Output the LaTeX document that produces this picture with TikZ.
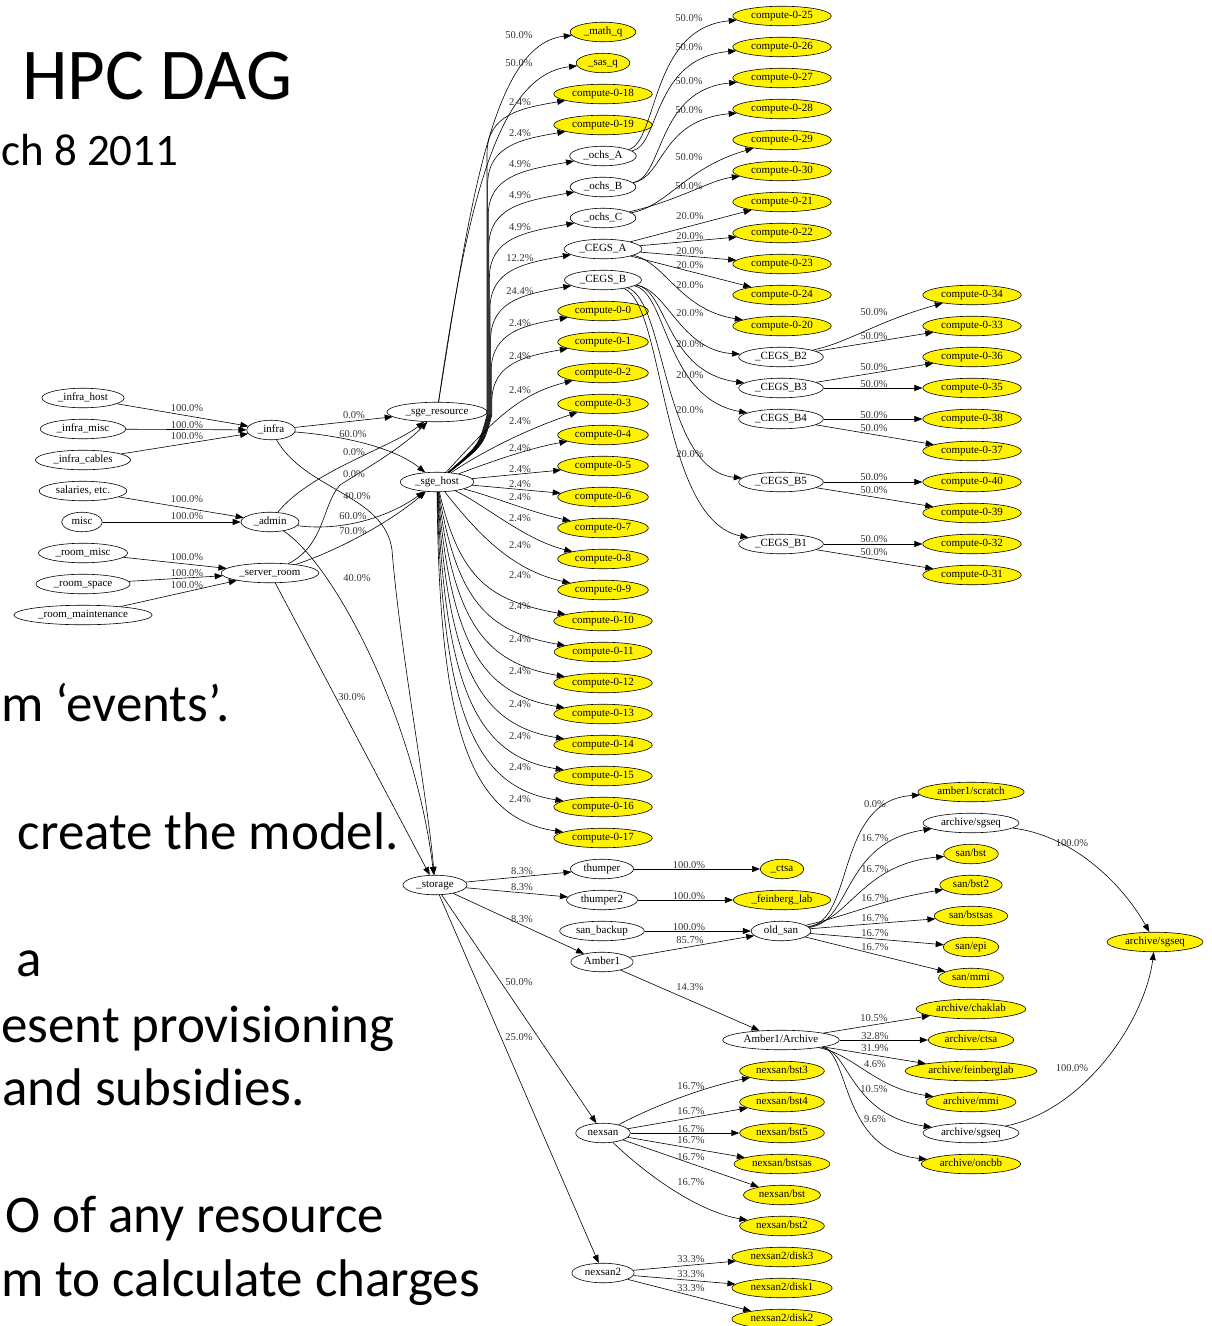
\documentclass[tikz,border=0pt]{standalone}
\usepackage{fontspec}
\setmainfont{Liberation Serif}
\newfontfamily\slidefont{Carlito}
\usetikzlibrary{shapes.geometric,arrows.meta}
\tikzset{
  gv/.style={ellipse, draw, line width=0.6pt, font=\fontsize{11}{12}\selectfont, inner xsep=4pt, inner ysep=2pt, text height=7.4pt, text depth=2.4pt},
  yl/.style={gv, fill=yellow},
  ed/.style={-{Triangle[length=8pt,width=6pt]}, line width=0.6pt},
  pc/.style={font=\fontsize{10.5}{11}\selectfont, text=black!80, inner sep=0pt},
  slt/.style={font=\slidefont\fontsize{73}{80}\selectfont, inner sep=0pt, anchor=base west},
  sld/.style={font=\slidefont\fontsize{45}{50}\selectfont, inner sep=0pt, anchor=base west},
  slb/.style={font=\slidefont\fontsize{53}{58}\selectfont, inner sep=0pt, anchor=base east},
  slw/.style={font=\slidefont\fontsize{53}{58}\selectfont, inner sep=0pt, anchor=base west},
}
\begin{document}
\begin{tikzpicture}[x=1pt,y=-1pt]
\useasboundingbox (0,0) rectangle (1211,1326);
\clip (0,0) rectangle (1211,1326);
\fill[white] (0,0) rectangle (1211,1326);

% ---------- slide text ----------
\node[slt] (title) at (22,99) {HPC DAG};
\node[sld] (date) at (1,165) {ch 8 2011};
\node[slw] (t1) at (1,721) {m ‘events’.};
\node[slb] (t2) at (399,849) {create the model.};
\node[slb] (t3) at (42,976) {a};
\node[slw] (t4) at (1,1042) {esent provisioning};
\node[slb] (t5) at (305,1105) {and subsidies.};
\node[slb] (t6) at (384,1232) {O of any resource};
\node[slw] (t7) at (1,1296) {m to calculate charges};

% ---------- left nodes ----------
\node[gv] (ih) at (83,398) {\_infra\_host};
\node[gv] (im) at (83,429) {\_infra\_misc};
\node[gv] (ic) at (83,460) {\_infra\_cables};
\node[gv] (sal) at (83,491) {salaries, etc.};
\node[gv] (misc) at (82,522) {misc};
\node[gv] (rmisc) at (83,553) {\_room\_misc};
\node[gv] (rspace) at (83,584) {\_room\_space};
\node[gv] (rmaint) at (83,615) {\_room\_maintenance};
\node[gv] (infra) at (271,430) {\_infra};
\node[gv] (admin) at (270,522) {\_admin};
\node[gv] (sroom) at (270,573) {\_server\_room};
\node[gv] (sgeres) at (437,412) {\_sge\_resource};
\node[gv] (sgehost) at (437,482) {\_sge\_host};
\node[gv] (storage) at (435,885) {\_storage};

% ---------- middle column ----------
\node[yl] (mathq) at (603,32) {\_math\_q};
\node[yl] (sasq) at (603,63) {\_sas\_q};
\node[yl] (c18) at (603,94) {compute-0-18};
\node[yl] (c19) at (603,125) {compute-0-19};
\node[gv] (ochsA) at (603,156) {\_ochs\_A};
\node[gv] (ochsB) at (603,187) {\_ochs\_B};
\node[gv] (ochsC) at (603,218) {\_ochs\_C};
\node[gv] (cegsA) at (603,249) {\_CEGS\_A};
\node[gv] (cegsB) at (603,280) {\_CEGS\_B};
\foreach \i in {0,...,17} {\node[yl] (c\i) at (603,{311+31*\i}) {compute-0-\i};}
\node[gv] (thumper) at (602,869) {thumper};
\node[gv] (thumper2) at (602,900) {thumper2};
\node[gv] (sanb) at (602,931) {san\_backup};
\node[gv] (amber) at (602,962) {Amber1};
\node[gv] (nexsan) at (603,1133) {nexsan};
\node[gv] (nexsan2) at (603,1273) {nexsan2};

% ---------- right column ----------
\node[yl] (c25) at (782,16) {compute-0-25};
\node[yl] (c26) at (782,47) {compute-0-26};
\node[yl] (c27) at (782,78) {compute-0-27};
\node[yl] (c28) at (782,109) {compute-0-28};
\node[yl] (c29) at (782,140) {compute-0-29};
\node[yl] (c30) at (782,171) {compute-0-30};
\node[yl] (c21) at (782,202) {compute-0-21};
\node[yl] (c22) at (782,233) {compute-0-22};
\node[yl] (c23) at (782,264) {compute-0-23};
\node[yl] (c24) at (782,295) {compute-0-24};
\node[yl] (c20) at (782,326) {compute-0-20};
\node[gv] (b2) at (781,357) {\_CEGS\_B2};
\node[gv] (b3) at (781,388) {\_CEGS\_B3};
\node[gv] (b4) at (781,419) {\_CEGS\_B4};
\node[gv] (b5) at (781,482) {\_CEGS\_B5};
\node[gv] (b1) at (781,544) {\_CEGS\_B1};
\node[yl] (ctsa) at (782,869) {\_ctsa};
\node[yl] (feinberg) at (782,900) {\_feinberg\_lab};
\node[gv] (oldsan) at (781,931) {old\_san};
\node[gv] (archive) at (781,1040) {Amber1/Archive};
\node[yl] (n3) at (782,1071) {nexsan/bst3};
\node[yl] (n4) at (782,1102) {nexsan/bst4};
\node[yl] (n5) at (782,1133) {nexsan/bst5};
\node[yl] (nsas) at (782,1164) {nexsan/bstsas};
\node[yl] (nbst) at (782,1195) {nexsan/bst};
\node[yl] (n2) at (782,1226) {nexsan/bst2};
\node[yl] (d3) at (782,1257) {nexsan2/disk3};
\node[yl] (d1) at (782,1288) {nexsan2/disk1};
\node[yl] (d2) at (782,1319) {nexsan2/disk2};

% ---------- far right ----------
\node[yl] (c34) at (972,295) {compute-0-34};
\node[yl] (c33) at (972,326) {compute-0-33};
\node[yl] (c36) at (972,357) {compute-0-36};
\node[yl] (c35) at (972,388) {compute-0-35};
\node[yl] (c38) at (972,419) {compute-0-38};
\node[yl] (c37) at (972,451) {compute-0-37};
\node[yl] (c40) at (972,482) {compute-0-40};
\node[yl] (c39) at (972,513) {compute-0-39};
\node[yl] (c32) at (972,544) {compute-0-32};
\node[yl] (c31) at (972,575) {compute-0-31};
\node[yl] (scratch) at (971,792) {amber1/scratch};
\node[gv] (asg1) at (971,823) {archive/sgseq};
\node[yl] (sbst) at (971,854) {san/bst};
\node[yl] (sbst2) at (971,885) {san/bst2};
\node[yl] (sbstsas) at (971,916) {san/bstsas};
\node[yl] (sepi) at (971,947) {san/epi};
\node[yl] (smmi) at (971,978) {san/mmi};
\node[yl] (chak) at (971,1009) {archive/chaklab};
\node[yl] (actsa) at (971,1040) {archive/ctsa};
\node[yl] (afein) at (971,1071) {archive/feinberglab};
\node[yl] (ammi) at (971,1102) {archive/mmi};
\node[gv] (asg2) at (971,1133) {archive/sgseq};
\node[yl] (oncbb) at (971,1164) {archive/oncbb};
\node[yl] (asgr) at (1155,942) {archive/sgseq};

% ---------- left edges ----------
\draw[ed] (ih) -- (infra) node[pc,at={(187,408)}] (p1) {100.0\%};
\draw[ed] (im) -- (infra) node[pc,at={(187,425)}] (p2) {100.0\%};
\draw[ed] (ic) -- (infra) node[pc,at={(187,436)}] (p3) {100.0\%};
\draw[ed] (sal) -- (admin) node[pc,at={(187,499)}] (p4) {100.0\%};
\draw[ed] (misc) -- (admin) node[pc,at={(187,516)}] (p5) {100.0\%};
\draw[ed] (rmisc) -- (sroom) node[pc,at={(187,557)}] (p6) {100.0\%};
\draw[ed] (rspace) -- (sroom) node[pc,at={(187,573)}] (p7) {100.0\%};
\draw[ed] (rmaint) -- (sroom) node[pc,at={(187,585)}] (p8) {100.0\%};

\draw[ed] (infra) -- (sgeres) node[pc,at={(354,415)}] (p9) {0.0\%};
\draw[ed] (infra) .. controls (345,436) and (395,448) .. (sgehost) node[pc,at={(353,434)}] (p10) {60.0\%};
\draw[ed] (infra) .. controls (305,490) and (385,495) .. (392,550) .. controls (400,650) and (428,800) .. (storage) node[pc,at={(357,496)}] (p11) {40.0\%};
\draw[ed] (admin) .. controls (310,472) and (390,448) .. (sgeres) node[pc,at={(354,452)}] (p12) {0.0\%};
\draw[ed] (sroom) .. controls (325,545) and (322,505) .. (340,485) .. controls (355,475) and (400,450) .. (sgeres) node[pc,at={(354,474)}] (p13) {0.0\%};
\draw[ed] (admin) .. controls (345,532) and (392,515) .. (sgehost) node[pc,at={(353,516)}] (p14) {60.0\%};
\draw[ed] (sroom) .. controls (345,548) and (395,518) .. (sgehost) node[pc,at={(353,531)}] (p15) {70.0\%};
\draw[ed] (admin) .. controls (335,565) and (415,720) .. (storage) node[pc,at={(357,578)}] (p16) {40.0\%};
\draw[ed] (sroom) -- (storage) node[pc,at={(352,697)}] (p17) {30.0\%};

% ---------- sge_resource ----------
\draw[ed] (sgeres) .. controls (470,205) and (492,44) .. (mathq) node[pc,at={(519,35)}] (p18) {50.0\%};
\draw[ed] (sgeres) .. controls (466,215) and (495,75) .. (sasq) node[pc,at={(519,63)}] (p19) {50.0\%};

% ---------- sge_host upper ----------
\foreach \tg/\bx/\yT/\ly/\lab in {c18/487/94/102/2.4, c19/487.6/125/133/2.4, ochsA/488.2/156/164/4.9, ochsB/488.8/187/195/4.9, ochsC/489.4/218/227/4.9, cegsA/490/249/258/12.2, cegsB/490.6/280/291/24.4, c0/491.2/311/323/2.4, c1/491.8/342/356/2.4}{
  \draw[ed] (sgehost) .. controls ({\bx-8},445) .. (\bx,415) -- (\bx,{\yT+60}) .. controls (\bx,{\yT+20}) and ({\bx+35},{\yT+14}) .. (\tg);
  \node[pc] (l\tg) at (520,\ly) {\lab\%};
}
\draw[ed] (sgehost) .. controls (490,425) and (515,395) .. (c2);
\draw[ed] (sgehost) .. controls (485,450) and (530,428) .. (c3);
\draw[ed] (sgehost) .. controls (490,462) and (530,448) .. (c4);
\draw[ed] (sgehost) -- (c5);
\draw[ed] (sgehost) -- (c6);
\draw[ed] (sgehost) .. controls (495,497) and (530,512) .. (c7);
\draw[ed] (sgehost) .. controls (485,505) and (525,540) .. (c8);
\draw[ed] (sgehost) .. controls (475,530) and (510,570) .. (c9);
\foreach \k in {0,...,7}{
  \pgfmathsetmacro\yT{621+31*\k}
  \pgfmathsetmacro\ax{460-3*\k}
  \pgfmathsetmacro\ay{492+0.68*(\yT-492)}
  \pgfmathsetmacro\bx{490-3*\k}
  \pgfmathsetmacro\by{\yT-20}
  \pgfmathtruncatemacro\nn{10+\k}
  \draw[ed] (sgehost) .. controls (\ax,\ay) and (\bx,\by) .. (c\nn);
}
\foreach \nn/\ly in {2/390,3/421,4/448,5/469,6/484,7/497,8/518,9/545,10/575,11/606,12/639,13/671,14/704,15/736,16/767,17/799}{
  \node[pc] (lc\nn) at (520,\ly) {2.4\%};
}

% ---------- ochs ----------
\draw[ed] (ochsA) .. controls (658,142) and (650,28) .. (c25) node[pc,at={(689,18)}] (p20) {50.0\%};
\draw[ed] (ochsA) .. controls (660,146) and (652,58) .. (c26) node[pc,at={(689,47)}] (p21) {50.0\%};
\draw[ed] (ochsB) .. controls (664,178) and (656,90) .. (c27) node[pc,at={(689,81)}] (p22) {50.0\%};
\draw[ed] (ochsB) .. controls (664,178) and (660,120) .. (c28) node[pc,at={(689,110)}] (p23) {50.0\%};
\draw[ed] (ochsC) .. controls (668,206) and (685,168) .. (c29) node[pc,at={(689,157)}] (p24) {50.0\%};
\draw[ed] (ochsC) .. controls (680,200) and (710,180) .. (c30) node[pc,at={(689,186)}] (p25) {50.0\%};

% ---------- CEGS_A ----------
\draw[ed] (cegsA) -- (c21) node[pc,at={(690,216)}] (p26) {20.0\%};
\draw[ed] (cegsA) -- (c22) node[pc,at={(690,236)}] (p27) {20.0\%};
\draw[ed] (cegsA) -- (c23) node[pc,at={(690,251)}] (p28) {20.0\%};
\draw[ed] (cegsA) -- (c24) node[pc,at={(690,265)}] (p29) {20.0\%};
\draw[ed] (cegsA) .. controls (665,262) and (680,310) .. (c20) node[pc,at={(690,285)}] (p30) {20.0\%};

% ---------- CEGS_B ----------
\draw[ed] (cegsB) .. controls (668,290) and (680,350) .. (b2) node[pc,at={(690,313)}] (p31) {20.0\%};
\draw[ed] (cegsB) .. controls (668,290) and (665,372) .. (b3) node[pc,at={(690,344)}] (p32) {20.0\%};
\draw[ed] (cegsB) .. controls (667,292) and (665,398) .. (b4) node[pc,at={(690,375)}] (p33) {20.0\%};
\draw[ed] (cegsB) .. controls (666,300) and (662,470) .. (b5) node[pc,at={(690,410)}] (p34) {20.0\%};
\draw[ed] (cegsB) .. controls (665,305) and (660,520) .. (b1) node[pc,at={(690,454)}] (p35) {20.0\%};

\draw[ed] (b2) .. controls (850,342) and (875,322) .. (c34) node[pc,at={(874,312)}] (p36) {50.0\%};
\draw[ed] (b2) -- (c33) node[pc,at={(874,336)}] (p37) {50.0\%};
\draw[ed] (b3) -- (c36) node[pc,at={(874,367)}] (p38) {50.0\%};
\draw[ed] (b3) -- (c35) node[pc,at={(874,384)}] (p39) {50.0\%};
\draw[ed] (b4) -- (c38) node[pc,at={(874,415)}] (p40) {50.0\%};
\draw[ed] (b4) -- (c37) node[pc,at={(874,428)}] (p41) {50.0\%};
\draw[ed] (b5) -- (c40) node[pc,at={(874,477)}] (p42) {50.0\%};
\draw[ed] (b5) -- (c39) node[pc,at={(874,490)}] (p43) {50.0\%};
\draw[ed] (b1) -- (c32) node[pc,at={(874,539)}] (p44) {50.0\%};
\draw[ed] (b1) -- (c31) node[pc,at={(874,552)}] (p45) {50.0\%};

% ---------- storage ----------
\draw[ed] (storage) -- (thumper) node[pc,at={(522,871)}] (p46) {8.3\%};
\draw[ed] (storage) -- (thumper2) node[pc,at={(522,887)}] (p47) {8.3\%};
\draw[ed] (storage) -- (amber) node[pc,at={(522,919)}] (p48) {8.3\%};
\draw[ed] (storage) -- (nexsan) node[pc,at={(519,982)}] (p49) {50.0\%};
\draw[ed] (storage) -- (nexsan2) node[pc,at={(519,1037)}] (p50) {25.0\%};
\draw[ed] (thumper) -- (ctsa) node[pc,at={(689,865)}] (p51) {100.0\%};
\draw[ed] (thumper2) -- (feinberg) node[pc,at={(689,896)}] (p52) {100.0\%};
\draw[ed] (sanb) -- (oldsan) node[pc,at={(689,927)}] (p53) {100.0\%};
\draw[ed] (amber) -- (oldsan) node[pc,at={(690,940)}] (p54) {85.7\%};
\draw[ed] (amber) -- (archive) node[pc,at={(690,987)}] (p55) {14.3\%};

% ---------- old_san ----------
\draw[ed] (oldsan) .. controls (855,920) and (835,800) .. (scratch) node[pc,at={(875,804)}] (p56) {0.0\%};
\draw[ed] (oldsan) .. controls (852,922) and (842,842) .. (asg1) node[pc,at={(875,838)}] (p57) {16.7\%};
\draw[ed] (oldsan) .. controls (850,920) and (862,864) .. (sbst) node[pc,at={(875,869)}] (p58) {16.7\%};
\draw[ed] (oldsan) .. controls (850,915) and (880,900) .. (sbst2) node[pc,at={(875,898)}] (p59) {16.7\%};
\draw[ed] (oldsan) -- (sbstsas) node[pc,at={(875,918)}] (p60) {16.7\%};
\draw[ed] (oldsan) -- (sepi) node[pc,at={(875,933)}] (p61) {16.7\%};
\draw[ed] (oldsan) -- (smmi) node[pc,at={(875,947)}] (p62) {16.7\%};
\draw[ed] (asg1) .. controls (1070,835) and (1120,880) .. (asgr) node[pc,at={(1072,843)}] (p63) {100.0\%};

% ---------- Amber1/Archive ----------
\draw[ed] (archive) -- (chak) node[pc,at={(874,1018)}] (p64) {10.5\%};
\draw[ed] (archive) -- (actsa) node[pc,at={(875,1036)}] (p65) {32.8\%};
\draw[ed] (archive) -- (afein) node[pc,at={(875,1048)}] (p66) {31.9\%};
\draw[ed] (archive) .. controls (855,1055) and (875,1088) .. (ammi) node[pc,at={(875,1064)}] (p67) {4.6\%};
\draw[ed] (archive) .. controls (850,1052) and (850,1115) .. (asg2) node[pc,at={(874,1089)}] (p68) {10.5\%};
\draw[ed] (archive) .. controls (850,1052) and (840,1150) .. (oncbb) node[pc,at={(875,1119)}] (p69) {9.6\%};
\draw[ed] (asg2) .. controls (1085,1110) and (1145,1020) .. (asgr) node[pc,at={(1072,1068)}] (p70) {100.0\%};

% ---------- nexsan ----------
\draw[ed] (nexsan) .. controls (650,1108) and (700,1088) .. (n3) node[pc,at={(691,1086)}] (p71) {16.7\%};
\draw[ed] (nexsan) -- (n4) node[pc,at={(691,1111)}] (p72) {16.7\%};
\draw[ed] (nexsan) -- (n5) node[pc,at={(691,1129)}] (p73) {16.7\%};
\draw[ed] (nexsan) -- (nsas) node[pc,at={(691,1140)}] (p74) {16.7\%};
\draw[ed] (nexsan) -- (nbst) node[pc,at={(691,1157)}] (p75) {16.7\%};
\draw[ed] (nexsan) .. controls (650,1178) and (700,1212) .. (n2) node[pc,at={(691,1182)}] (p76) {16.7\%};
\draw[ed] (nexsan2) -- (d3) node[pc,at={(691,1259)}] (p77) {33.3\%};
\draw[ed] (nexsan2) -- (d1) node[pc,at={(691,1274)}] (p78) {33.3\%};
\draw[ed] (nexsan2) -- (d2) node[pc,at={(691,1288)}] (p79) {33.3\%};
\end{tikzpicture}
\end{document}
